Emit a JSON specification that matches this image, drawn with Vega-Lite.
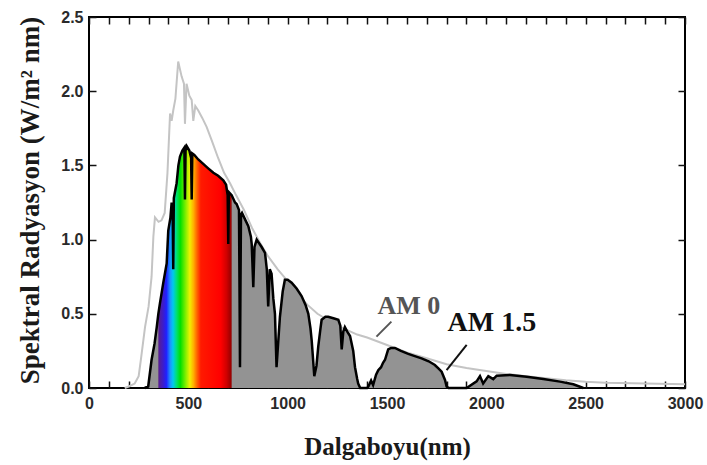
{
  "$schema": "https://vega.github.io/schema/vega-lite/v6.json",
  "width": 596,
  "height": 371,
  "autosize": {"type": "none"},
  "padding": {"left": 89, "top": 17, "right": 22, "bottom": 77},
  "background": "white",
  "config": {
    "view": {"stroke": "#000", "strokeWidth": 2},
    "axis": {"grid": false, "domain": false, "ticks": true, "zindex": 1, "tickColor": "#111", "tickWidth": 1.5,
             "labelFont": "Liberation Sans", "labelFontSize": 16, "labelFontWeight": "bold", "labelColor": "#2a2a2a",
             "titleFont": "Liberation Serif", "titleFontWeight": "bold", "titleColor": "#1a1a1a"}
  },
  "datasets": {
    "am0": [
      {"wl": 180, "v": 0.0}, {"wl": 200, "v": 0.01}, {"wl": 230, "v": 0.03}, {"wl": 250, "v": 0.08},
      {"wl": 262, "v": 0.2}, {"wl": 282, "v": 0.41}, {"wl": 300, "v": 0.55}, {"wl": 315, "v": 0.75},
      {"wl": 324, "v": 1.02}, {"wl": 332, "v": 1.15}, {"wl": 350, "v": 1.12}, {"wl": 365, "v": 1.13},
      {"wl": 381, "v": 1.18}, {"wl": 395, "v": 1.45}, {"wl": 408, "v": 1.85}, {"wl": 416, "v": 1.8},
      {"wl": 424, "v": 1.87}, {"wl": 435, "v": 1.95}, {"wl": 449, "v": 2.2}, {"wl": 466, "v": 2.1},
      {"wl": 478, "v": 2.05}, {"wl": 483, "v": 1.78}, {"wl": 491, "v": 2.05}, {"wl": 505, "v": 1.97},
      {"wl": 517, "v": 1.94}, {"wl": 525, "v": 1.8}, {"wl": 535, "v": 1.9}, {"wl": 550, "v": 1.87},
      {"wl": 570, "v": 1.82}, {"wl": 592, "v": 1.76}, {"wl": 620, "v": 1.66}, {"wl": 650, "v": 1.55},
      {"wl": 680, "v": 1.45}, {"wl": 710, "v": 1.38}, {"wl": 740, "v": 1.3}, {"wl": 780, "v": 1.2},
      {"wl": 820, "v": 1.08}, {"wl": 860, "v": 0.98}, {"wl": 900, "v": 0.89}, {"wl": 950, "v": 0.8},
      {"wl": 1000, "v": 0.72}, {"wl": 1050, "v": 0.63}, {"wl": 1100, "v": 0.56}, {"wl": 1150, "v": 0.5},
      {"wl": 1200, "v": 0.46}, {"wl": 1250, "v": 0.42}, {"wl": 1300, "v": 0.39}, {"wl": 1350, "v": 0.36},
      {"wl": 1400, "v": 0.34}, {"wl": 1500, "v": 0.29}, {"wl": 1600, "v": 0.24}, {"wl": 1700, "v": 0.2},
      {"wl": 1800, "v": 0.16}, {"wl": 1900, "v": 0.135}, {"wl": 2000, "v": 0.115}, {"wl": 2100, "v": 0.095},
      {"wl": 2200, "v": 0.08}, {"wl": 2300, "v": 0.065}, {"wl": 2400, "v": 0.052}, {"wl": 2500, "v": 0.042},
      {"wl": 2600, "v": 0.036}, {"wl": 2800, "v": 0.03}, {"wl": 3000, "v": 0.025}
    ],
    "am15": [
      {"wl": 280, "v": 0}, {"wl": 298, "v": 0.01}, {"wl": 315, "v": 0.19}, {"wl": 330, "v": 0.3},
      {"wl": 341, "v": 0.41}, {"wl": 349, "v": 0.5}, {"wl": 357, "v": 0.57}, {"wl": 374, "v": 0.71},
      {"wl": 391, "v": 0.84}, {"wl": 399, "v": 1.06}, {"wl": 410, "v": 1.15}, {"wl": 416, "v": 1.25},
      {"wl": 421, "v": 1.2}, {"wl": 424, "v": 0.8}, {"wl": 427, "v": 1.28}, {"wl": 441, "v": 1.38},
      {"wl": 450, "v": 1.5}, {"wl": 458, "v": 1.56}, {"wl": 470, "v": 1.6}, {"wl": 480, "v": 1.62},
      {"wl": 483, "v": 1.27}, {"wl": 486, "v": 1.6}, {"wl": 492, "v": 1.63}, {"wl": 505, "v": 1.6},
      {"wl": 514, "v": 1.55}, {"wl": 517, "v": 1.27}, {"wl": 520, "v": 1.58}, {"wl": 530, "v": 1.57},
      {"wl": 550, "v": 1.54}, {"wl": 575, "v": 1.51}, {"wl": 600, "v": 1.48}, {"wl": 626, "v": 1.45},
      {"wl": 650, "v": 1.43}, {"wl": 676, "v": 1.4}, {"wl": 690, "v": 1.37}, {"wl": 698, "v": 1.3},
      {"wl": 701, "v": 0.97}, {"wl": 704, "v": 1.32}, {"wl": 718, "v": 1.3}, {"wl": 735, "v": 1.25},
      {"wl": 743, "v": 1.24}, {"wl": 755, "v": 1.2}, {"wl": 758, "v": 0.6}, {"wl": 760, "v": 0.14},
      {"wl": 762, "v": 0.6}, {"wl": 765, "v": 1.17}, {"wl": 770, "v": 1.18}, {"wl": 802, "v": 1.09},
      {"wl": 815, "v": 1.02}, {"wl": 819, "v": 0.97}, {"wl": 827, "v": 0.68}, {"wl": 833, "v": 0.95},
      {"wl": 844, "v": 1.0}, {"wl": 869, "v": 0.95}, {"wl": 886, "v": 0.91}, {"wl": 895, "v": 0.8},
      {"wl": 902, "v": 0.55}, {"wl": 910, "v": 0.8}, {"wl": 919, "v": 0.77}, {"wl": 928, "v": 0.6},
      {"wl": 936, "v": 0.5}, {"wl": 944, "v": 0.14}, {"wl": 952, "v": 0.3}, {"wl": 961, "v": 0.48},
      {"wl": 975, "v": 0.65}, {"wl": 986, "v": 0.73}, {"wl": 1000, "v": 0.73}, {"wl": 1020, "v": 0.71},
      {"wl": 1045, "v": 0.67}, {"wl": 1070, "v": 0.62}, {"wl": 1090, "v": 0.56}, {"wl": 1104, "v": 0.5},
      {"wl": 1115, "v": 0.4}, {"wl": 1121, "v": 0.32}, {"wl": 1134, "v": 0.08}, {"wl": 1145, "v": 0.15},
      {"wl": 1154, "v": 0.28}, {"wl": 1165, "v": 0.4}, {"wl": 1171, "v": 0.46}, {"wl": 1190, "v": 0.48},
      {"wl": 1204, "v": 0.48}, {"wl": 1230, "v": 0.47}, {"wl": 1255, "v": 0.46}, {"wl": 1265, "v": 0.42},
      {"wl": 1272, "v": 0.26}, {"wl": 1280, "v": 0.38}, {"wl": 1288, "v": 0.41}, {"wl": 1300, "v": 0.38},
      {"wl": 1314, "v": 0.35}, {"wl": 1330, "v": 0.25}, {"wl": 1339, "v": 0.14}, {"wl": 1350, "v": 0.06},
      {"wl": 1355, "v": 0.03}, {"wl": 1365, "v": 0}, {"wl": 1400, "v": 0}, {"wl": 1406, "v": 0.01},
      {"wl": 1420, "v": 0.05}, {"wl": 1430, "v": 0.02}, {"wl": 1445, "v": 0.09}, {"wl": 1456, "v": 0.12},
      {"wl": 1470, "v": 0.14}, {"wl": 1480, "v": 0.17}, {"wl": 1490, "v": 0.19}, {"wl": 1506, "v": 0.26},
      {"wl": 1520, "v": 0.27}, {"wl": 1540, "v": 0.27}, {"wl": 1570, "v": 0.25}, {"wl": 1607, "v": 0.23},
      {"wl": 1640, "v": 0.215}, {"wl": 1674, "v": 0.2}, {"wl": 1710, "v": 0.18}, {"wl": 1741, "v": 0.155},
      {"wl": 1760, "v": 0.13}, {"wl": 1775, "v": 0.11}, {"wl": 1792, "v": 0.054}, {"wl": 1800, "v": 0.01},
      {"wl": 1810, "v": 0}, {"wl": 1901, "v": 0}, {"wl": 1951, "v": 0.045}, {"wl": 1968, "v": 0.08},
      {"wl": 1984, "v": 0.03}, {"wl": 2010, "v": 0.08}, {"wl": 2035, "v": 0.06}, {"wl": 2052, "v": 0.083},
      {"wl": 2119, "v": 0.088}, {"wl": 2203, "v": 0.076}, {"wl": 2287, "v": 0.06}, {"wl": 2371, "v": 0.043},
      {"wl": 2438, "v": 0.025}, {"wl": 2488, "v": 0}
    ],
    "pointers": [
      {"wl": 1522, "v": 0.447, "wl2": 1447, "v2": 0.346, "series": "AM 0"},
      {"wl": 1901, "v": 0.29, "wl2": 1800, "v2": 0.121, "series": "AM 1.5"}
    ],
    "labels": [
      {"wl": 1610, "v": 0.55, "text": "AM 0", "size": "a"},
      {"wl": 2028, "v": 0.44, "text": "AM 1.5", "size": "b"}
    ]
  },
  "resolve": {"axis": {"x": "independent", "y": "independent"}},
  "layer": [
    {
      "data": {"name": "am0"},
      "mark": {"type": "line", "color": "#c4c4c4", "strokeWidth": 2},
      "encoding": {
        "x": {"field": "wl", "type": "quantitative", "scale": {"domain": [0, 3000], "nice": false},
              "axis": {"orient": "bottom", "title": "Dalgaboyu(nm)", "values": [0,100,200,300,400,500,600,700,800,900,1000,1100,1200,1300,1400,1500,1600,1700,1800,1900,2000,2100,2200,2300,2400,2500,2600,2700,2800,2900,3000],
                       "format": "d", "labelExpr": "datum.value % 500 === 0 ? datum.label : ''", "labelFlush": false,
                       "offset": -7, "tickSize": 7, "labelPadding": 7, "titleFontSize": 25, "titleX": 298, "titleY": 65, "titleBaseline": "middle"}},
        "y": {"field": "v", "type": "quantitative", "scale": {"domain": [0, 2.5], "nice": false},
              "axis": {"orient": "left", "title": "Spektral Radyasyon (W/m² nm)", "values": [0, 0.5, 1, 1.5, 2, 2.5], "format": ".1f",
                       "offset": -7, "tickSize": 7, "labelPadding": 6, "titleFontSize": 27, "titleX": -66, "titleY": 183, "titleBaseline": "middle", "titleAngle": -90}}
      }
    },
    {
      "data": {"name": "am15"},
      "mark": {"type": "area", "color": "#939393", "opacity": 1},
      "encoding": {
        "x": {"field": "wl", "type": "quantitative",
              "axis": {"orient": "top", "title": null, "labels": false, "values": [0,100,200,300,400,500,600,700,800,900,1000,1100,1200,1300,1400,1500,1600,1700,1800,1900,2000,2100,2200,2300,2400,2500,2600,2700,2800,2900,3000], "offset": -7, "tickSize": 7}},
        "y": {"field": "v", "type": "quantitative",
              "axis": {"orient": "right", "title": null, "labels": false, "values": [0, 0.5, 1, 1.5, 2, 2.5], "offset": -7, "tickSize": 7}}
      }
    },
    {
      "data": {"name": "am15"},
      "transform": [{"filter": "datum.wl >= 349 && datum.wl <= 718"}],
      "mark": {"type": "area", "opacity": 1, "color": {"gradient": "linear", "x1": 0, "y1": 0, "x2": 1, "y2": 0,
        "stops": [
          {"offset": 0, "color": "#5a1e8c"},
          {"offset": 0.07, "color": "#3a1ccf"},
          {"offset": 0.11, "color": "#2020ff"},
          {"offset": 0.16, "color": "#1e90ff"},
          {"offset": 0.2, "color": "#00c8f0"},
          {"offset": 0.25, "color": "#00e070"},
          {"offset": 0.3, "color": "#00e000"},
          {"offset": 0.38, "color": "#90f000"},
          {"offset": 0.43, "color": "#f0f000"},
          {"offset": 0.48, "color": "#ffb000"},
          {"offset": 0.53, "color": "#ff6000"},
          {"offset": 0.58, "color": "#ff1a00"},
          {"offset": 0.85, "color": "#ff0000"},
          {"offset": 0.93, "color": "#d00000"},
          {"offset": 1, "color": "#900000"}
        ]}},
      "encoding": {
        "x": {"field": "wl", "type": "quantitative", "axis": null},
        "y": {"field": "v", "type": "quantitative", "axis": null}
      }
    },
    {
      "data": {"name": "am15"},
      "mark": {"type": "line", "color": "#000", "strokeWidth": 2.5},
      "encoding": {
        "x": {"field": "wl", "type": "quantitative", "axis": null},
        "y": {"field": "v", "type": "quantitative", "axis": null}
      }
    },
    {
      "data": {"name": "pointers"},
      "mark": {"type": "rule", "strokeWidth": 2},
      "encoding": {
        "x": {"field": "wl", "type": "quantitative", "axis": null},
        "y": {"field": "v", "type": "quantitative", "axis": null},
        "x2": {"field": "wl2"},
        "y2": {"field": "v2"},
        "color": {"field": "series", "type": "nominal", "scale": {"domain": ["AM 0", "AM 1.5"], "range": ["#555555", "#111111"]}, "legend": null}
      }
    },
    {
      "data": {"name": "labels"},
      "mark": {"type": "text", "font": "Liberation Serif", "fontWeight": "bold", "align": "center", "baseline": "middle"},
      "encoding": {
        "x": {"field": "wl", "type": "quantitative", "axis": null},
        "y": {"field": "v", "type": "quantitative", "axis": null},
        "text": {"field": "text"},
        "size": {"field": "size", "type": "nominal", "scale": {"domain": ["a", "b"], "range": [26, 28]}, "legend": null},
        "color": {"field": "text", "type": "nominal", "scale": {"domain": ["AM 0", "AM 1.5"], "range": ["#8c8c8c", "#0d0d0d"]}, "legend": null}
      }
    }
  ]
}
